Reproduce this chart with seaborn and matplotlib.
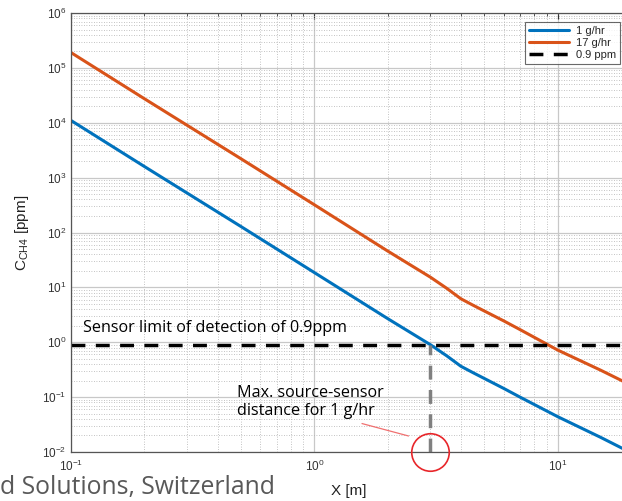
import matplotlib
matplotlib.use("Agg")
import matplotlib.pyplot as plt
import seaborn as sns
import pandas as pd
import numpy as np
from matplotlib.ticker import LogLocator, NullFormatter

# Data
x_m = [0.1, 0.2, 0.5, 1.0, 2.0, 3.0, 3.5, 4.0, 4.5, 5.0, 6.0, 7.0, 10.0, 15.0, 20.0]
c_1gph = [1.1e4, 1.6e3, 128, 18.6, 2.7, 0.9, 0.565, 0.365, 0.277, 0.218, 0.144,
          0.1, 0.044, 0.0185, 0.0097]
c_17gph = [1.9e5, 2.75e4, 2.2e3, 320, 46, 15.3, 9.6, 6.2, 4.7, 3.7, 2.45,
           1.7, 0.72, 0.31, 0.165]
series_names = ["1 g/hr", "17 g/hr"]
limit_ppm = 0.9
limit_label = "0.9 ppm"
max_dist = 3.0

df = pd.DataFrame({
    "X": x_m * 2,
    "C": c_1gph + c_17gph,
    "series": [series_names[0]] * len(x_m) + [series_names[1]] * len(x_m),
})

sns.set_style("white")
plt.rcParams['font.family'] = ['Liberation Sans', 'DejaVu Sans']

fig = plt.figure(figsize=(6.22, 5.01), dpi=100)
ax = fig.add_axes([71/622, (501-452)/501, (631-71)/622, (452-13)/501])

palette = {series_names[0]: "#0072BD", series_names[1]: "#D95319"}
sns.lineplot(data=df, x="X", y="C", hue="series", palette=palette, ax=ax,
             linewidth=2.2, legend=False)

ax.set_xscale("log")
ax.set_yscale("log")
ax.set_xlim(0.1, 20)
ax.set_ylim(1e-2, 1e6)

# grids
ax.xaxis.set_major_locator(LogLocator(base=10, numticks=10))
ax.yaxis.set_major_locator(LogLocator(base=10, numticks=12))
ax.xaxis.set_minor_locator(LogLocator(base=10, subs=np.arange(2, 10), numticks=20))
ax.yaxis.set_minor_locator(LogLocator(base=10, subs=np.arange(2, 10), numticks=20))
ax.xaxis.set_minor_formatter(NullFormatter())
ax.yaxis.set_minor_formatter(NullFormatter())
ax.grid(True, which="major", color="#c8c8c8", linewidth=0.9, linestyle="-")
ax.grid(True, which="minor", color="#b0b0b0", linewidth=0.6, linestyle=(0, (1, 2)))
ax.set_axisbelow(True)

for s in ax.spines.values():
    s.set_color("#555555")
    s.set_linewidth(0.9)
ax.tick_params(which="both", direction="in", colors="#333333", labelsize=8.5,
               top=True, right=True)
ax.tick_params(which="major", length=4)
ax.tick_params(which="minor", length=2)
ax.tick_params(axis="x", pad=5)

# limit line
ax.plot([0.1, 20], [limit_ppm, limit_ppm], color="black", linewidth=2.5,
        dashes=(4, 3), label=limit_label)
# vertical marker line
ax.plot([max_dist, max_dist], [1e-2, limit_ppm], color="#808080", linewidth=2.5,
        dashes=(4, 3))

# circle
ax.plot([max_dist], [1.0e-2], marker="o", markersize=27, markerfacecolor="none",
        markeredgecolor="#e8262a", markeredgewidth=1.2, clip_on=False, zorder=5)

# legend
handles = [
    plt.Line2D([], [], color="#0072BD", linewidth=2.2, label=series_names[0]),
    plt.Line2D([], [], color="#D95319", linewidth=2.2, label=series_names[1]),
    plt.Line2D([], [], color="black", linewidth=2.5, dashes=(4, 3), label=limit_label),
]
leg = ax.legend(handles=handles, loc="upper left", bbox_to_anchor=((525-71)/560, 1 - 9/439),
                fontsize=8, frameon=True, fancybox=False, handlelength=3.6,
                borderpad=0.35, labelspacing=0.2, handletextpad=0.6, borderaxespad=0)
leg.get_frame().set_edgecolor("#444444")
leg.get_frame().set_linewidth(0.8)

# annotations
ann_font = ['Open Sans', 'DejaVu Sans']
ax.text(0.112, 1.55, "Sensor limit of detection of 0.9ppm", fontsize=11.6,
        family=ann_font, color="black", va="baseline")
ax.text(0.482, 0.168, "Max. source-sensor\ndistance for 1 g/hr", fontsize=11.6,
        family=ann_font, color="black", va="top", linespacing=1.2)
ax.annotate("", xy=(2.5, 0.019), xytext=(1.53, 0.034),
            arrowprops=dict(arrowstyle="-", color="#f07070", linewidth=0.9))

ax.set_xlabel("X [m]", fontsize=11, color="#222222")
ax.xaxis.set_label_coords((349-71)/560, -0.072)
ax.set_ylabel(r"C$_{\mathregular{CH4}}$ [ppm]", fontsize=11, color="#222222")
ax.yaxis.set_label_coords(-0.072, 0.5)

fig.text(0.0, 0.026, "d Solutions, Switzerland", fontsize=17.8, color="#595959",
         family=ann_font, ha="left", va="center")

fig.savefig("out.png", dpi=100)
